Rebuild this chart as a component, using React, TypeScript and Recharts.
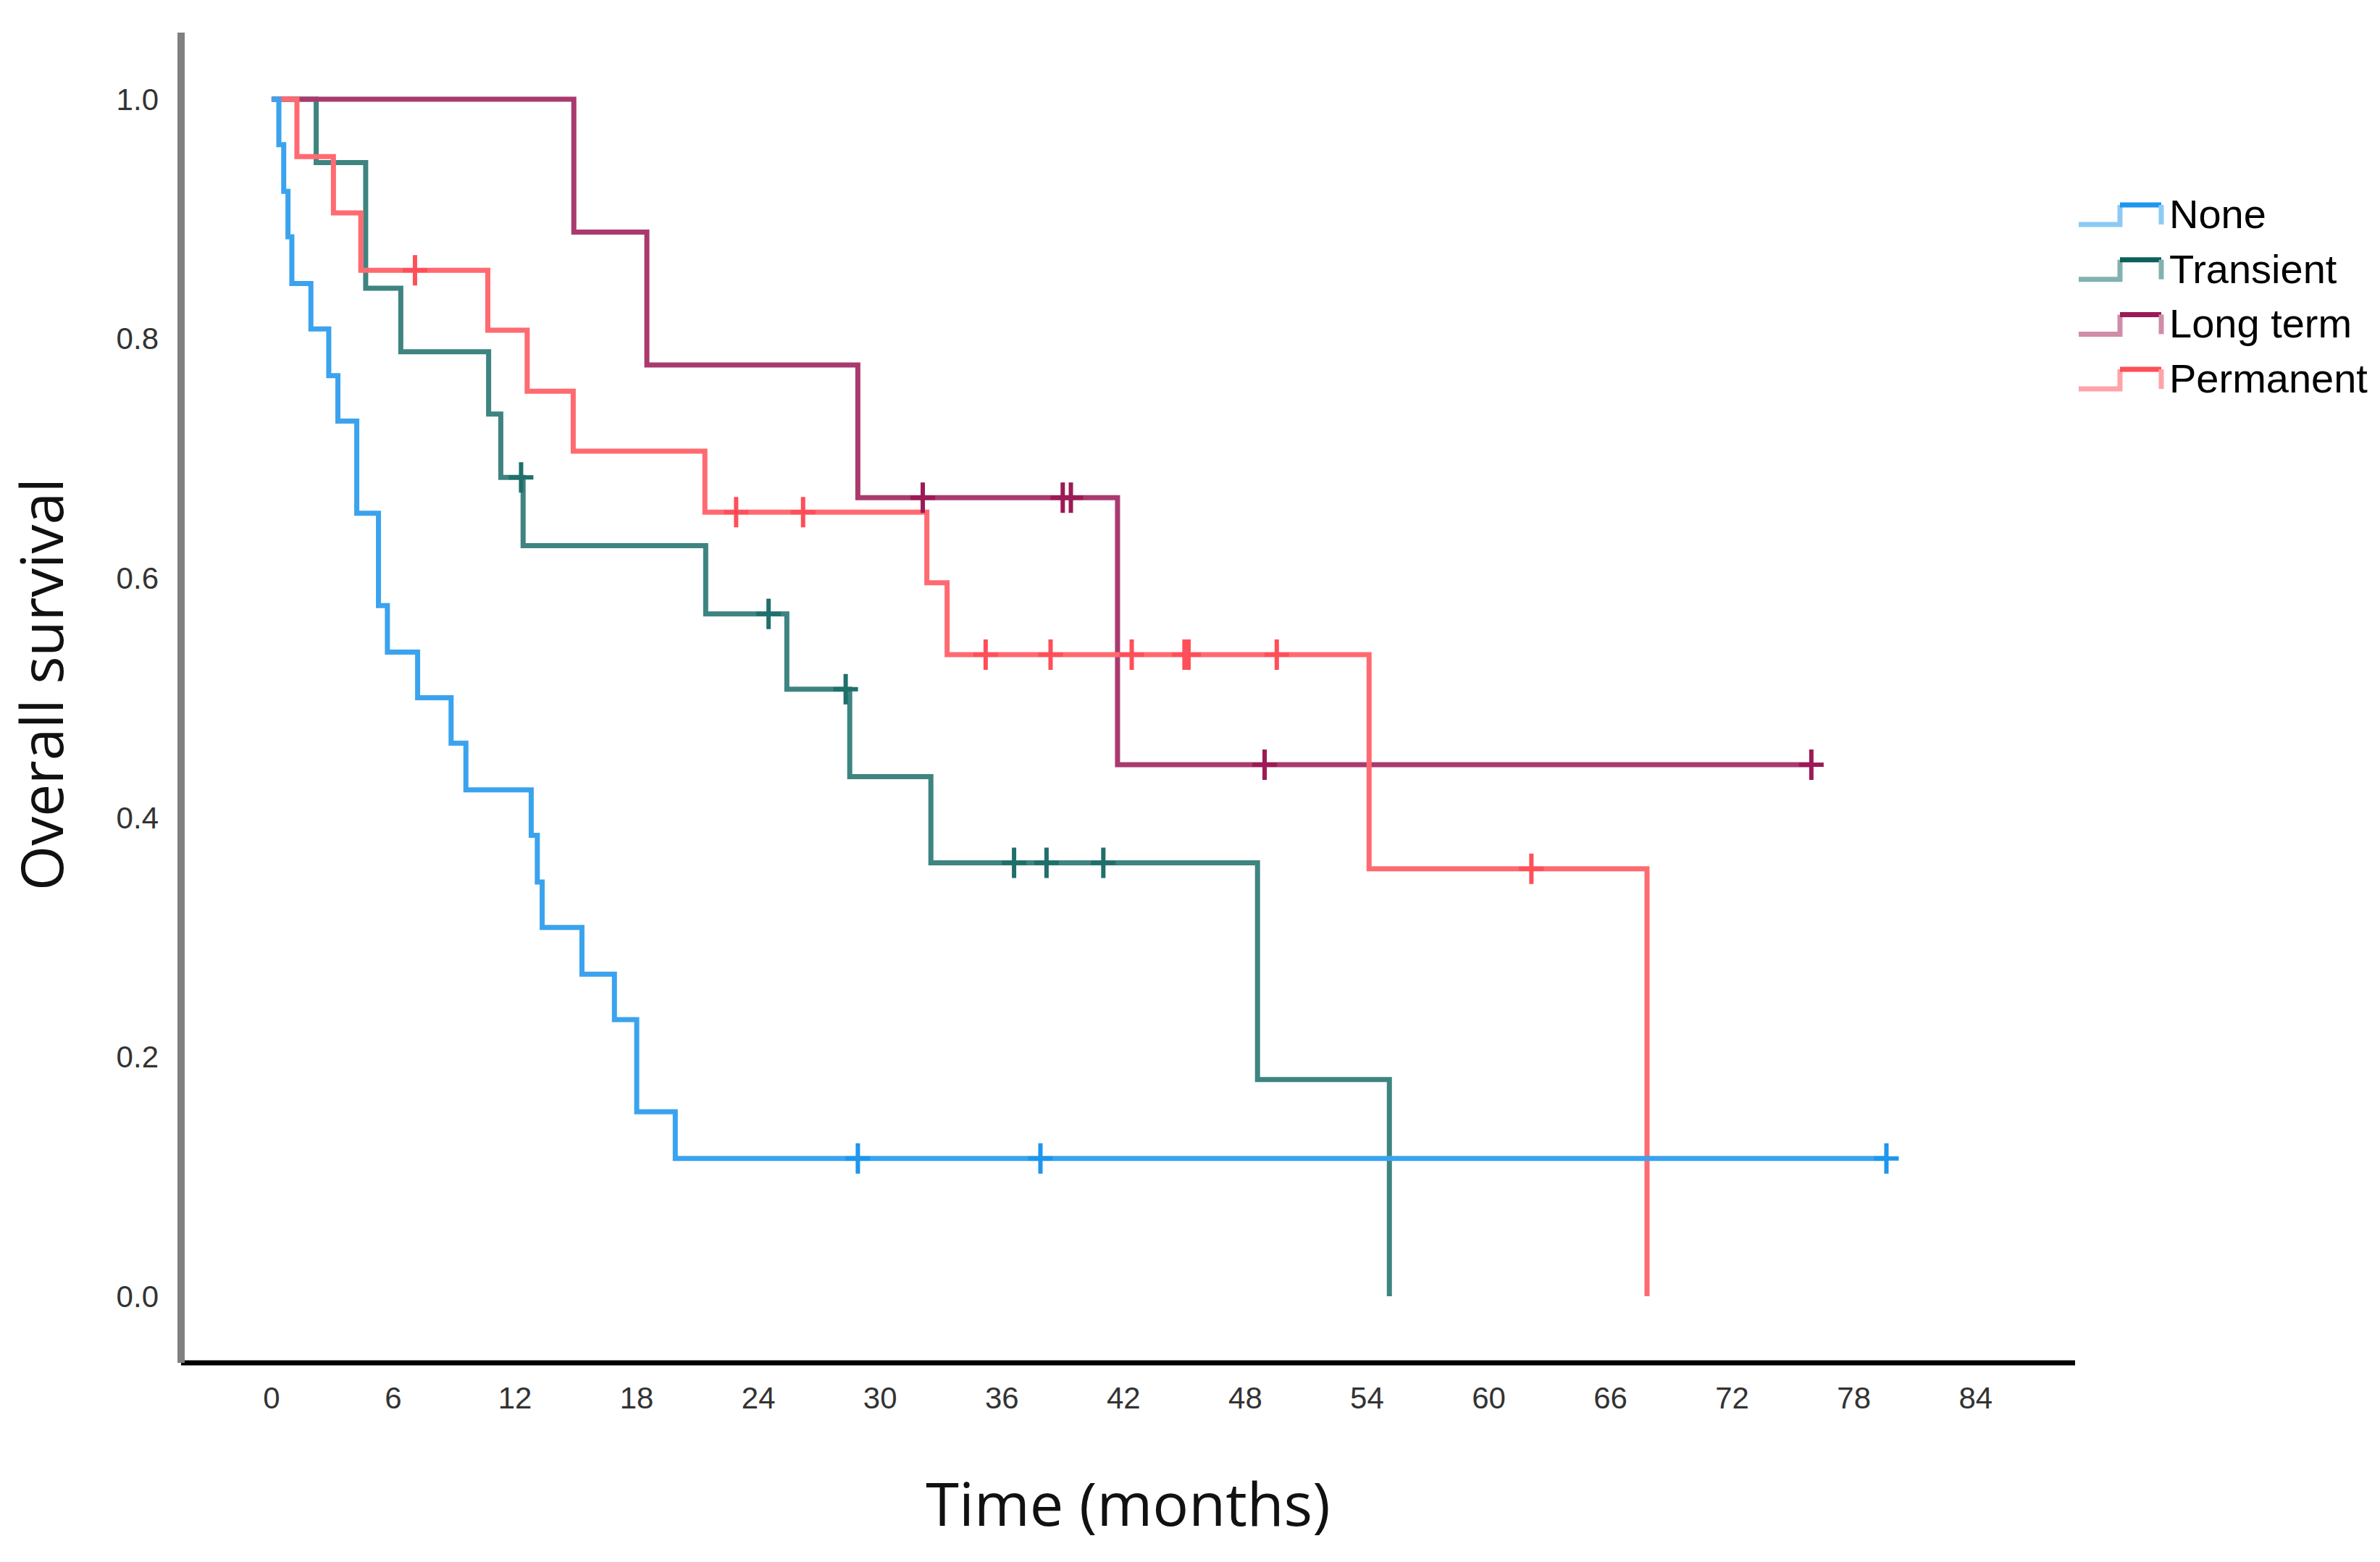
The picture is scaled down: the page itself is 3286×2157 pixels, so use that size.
import { LineChart, Line, XAxis, YAxis, Legend } from "recharts";

type Pt = { t: number; s: number; c?: boolean };

// Kaplan-Meier steps (c = censored)
const noneCurve: Pt[] = [
  { t: 0, s: 1 },
  { t: 0.36, s: 0.962 },
  { t: 0.6, s: 0.923 },
  { t: 0.81, s: 0.885 },
  { t: 1.0, s: 0.846 },
  { t: 1.94, s: 0.808 },
  { t: 2.82, s: 0.769 },
  { t: 3.27, s: 0.731 },
  { t: 4.2, s: 0.654 },
  { t: 5.27, s: 0.577 },
  { t: 5.71, s: 0.538 },
  { t: 7.2, s: 0.5 },
  { t: 8.85, s: 0.462 },
  { t: 9.58, s: 0.423 },
  { t: 12.8, s: 0.385 },
  { t: 13.1, s: 0.346 },
  { t: 13.34, s: 0.308 },
  { t: 15.3, s: 0.269 },
  { t: 16.9, s: 0.231 },
  { t: 18.0, s: 0.154 },
  { t: 19.9, s: 0.115 },
  { t: 28.9, s: 0.115, c: true },
  { t: 37.9, s: 0.115, c: true },
  { t: 79.6, s: 0.115, c: true },
];

const transientCurve: Pt[] = [
  { t: 0, s: 1 },
  { t: 2.2, s: 0.947 },
  { t: 4.64, s: 0.842 },
  { t: 6.37, s: 0.789 },
  { t: 10.7, s: 0.737 },
  { t: 11.3, s: 0.684 },
  { t: 12.3, s: 0.684, c: true },
  { t: 12.4, s: 0.627 },
  { t: 21.4, s: 0.57 },
  { t: 24.5, s: 0.57, c: true },
  { t: 25.4, s: 0.507 },
  { t: 28.3, s: 0.507, c: true },
  { t: 28.5, s: 0.434 },
  { t: 32.5, s: 0.362 },
  { t: 36.6, s: 0.362, c: true },
  { t: 38.2, s: 0.362, c: true },
  { t: 41.0, s: 0.362, c: true },
  { t: 48.6, s: 0.181 },
  { t: 55.1, s: 0 },
];

const longTermCurve: Pt[] = [
  { t: 0, s: 1 },
  { t: 14.9, s: 0.889 },
  { t: 18.5, s: 0.778 },
  { t: 28.9, s: 0.667 },
  { t: 32.1, s: 0.667, c: true },
  { t: 39.0, s: 0.667, c: true },
  { t: 39.4, s: 0.667, c: true },
  { t: 41.7, s: 0.444 },
  { t: 48.95, s: 0.444, c: true },
  { t: 75.9, s: 0.444, c: true },
];

const permanentCurve: Pt[] = [
  { t: 0, s: 1 },
  { t: 1.25, s: 0.952 },
  { t: 3.05, s: 0.905 },
  { t: 4.4, s: 0.857 },
  { t: 7.07, s: 0.857, c: true },
  { t: 10.66, s: 0.807 },
  { t: 12.6, s: 0.756 },
  { t: 14.87, s: 0.706 },
  { t: 21.36, s: 0.655 },
  { t: 22.9, s: 0.655, c: true },
  { t: 26.2, s: 0.655, c: true },
  { t: 32.3, s: 0.596 },
  { t: 33.3, s: 0.536 },
  { t: 35.2, s: 0.536, c: true },
  { t: 38.4, s: 0.536, c: true },
  { t: 42.4, s: 0.536, c: true },
  { t: 45.0, s: 0.536, c: true },
  { t: 45.2, s: 0.536, c: true },
  { t: 49.55, s: 0.536, c: true },
  { t: 54.1, s: 0.357 },
  { t: 62.1, s: 0.357, c: true },
  { t: 67.8, s: 0 },
];

const xTicks = [0, 6, 12, 18, 24, 30, 36, 42, 48, 54, 60, 66, 72, 78, 84];
const yTicks = [0, 0.2, 0.4, 0.6, 0.8, 1.0];

const legendItems = [
  { name: "None", dark: "#1e96ee", light: "#8ccaf4" },
  { name: "Transient", dark: "#0b605c", light: "#82b2af" },
  { name: "Long term", dark: "#9c1a56", light: "#d08ca9" },
  { name: "Permanent", dark: "#ff4f58", light: "#ffa3a8" },
];

const censorDot = (color: string) => (props: any) => {
  const { cx, cy, payload, index } = props;
  if (!payload || !payload.c) return <g key={index} />;
  return (
    <path
      key={index}
      d={`M${cx - 17},${cy}H${cx + 17}M${cx},${cy - 21}V${cy + 21}`}
      stroke={color}
      strokeWidth={6}
      fill="none"
    />
  );
};

function renderLegend() {
  return (
    <svg width={420} height={320}>
      {legendItems.map((it, i) => {
        const cy = 35 + 75.7 * i;
        return (
          <g key={it.name}>
            <path d={`M10,${cy + 15}H67V${cy - 12}`} stroke={it.light} strokeWidth={7} fill="none" />
            <path d={`M67,${cy - 12}H124`} stroke={it.dark} strokeWidth={7} fill="none" />
            <path d={`M124,${cy - 12}V${cy + 15}`} stroke={it.light} strokeWidth={7} fill="none" />
            <text x={135} y={cy + 20} fontSize={56} fill="#000" fontFamily="Liberation Sans, Arial, sans-serif">
              {it.name}
            </text>
          </g>
        );
      })}
    </svg>
  );
}

const tickStyle = { fontSize: 42, fill: "#333", fontFamily: "Liberation Sans, Arial, sans-serif" };

export default function App() {
  return (
    <div style={{ position: "absolute", left: 0, top: 0, width: 3286, height: 2157, background: "#fff" }}>
      <LineChart width={3286} height={2157} margin={{ top: 45, right: 421, bottom: 0, left: 0 }}>
        <XAxis
          type="number"
          dataKey="t"
          domain={[-4.46, 88.9]}
          ticks={xTicks}
          allowDataOverflow
          tickLine={false}
          tickSize={0}
          tickMargin={33}
          height={275}
          tick={tickStyle}
          axisLine={{ stroke: "#000", strokeWidth: 7 }}
          label={(p: any) => {
            const vb = p.viewBox;
            return (
              <text
                x={vb.x + vb.width / 2}
                y={vb.y + 225}
                textAnchor="middle"
                fontSize={83}
                fill="#111"
                fontFamily="Open Sans, sans-serif"
              >
                Time (months)
              </text>
            );
          }}
        />
        <YAxis
          type="number"
          dataKey="s"
          domain={[-0.0557, 1.0556]}
          ticks={yTicks}
          allowDataOverflow
          width={250}
          tickLine={false}
          tickSize={0}
          tickMargin={31}
          tick={tickStyle}
          tickFormatter={(v: number) => v.toFixed(1)}
          axisLine={{ stroke: "#808080", strokeWidth: 10 }}
          label={() => (
            <text
              x={87}
              y={945}
              transform="rotate(-90 87 945)"
              textAnchor="middle"
              fontSize={80}
              fill="#111"
              fontFamily="Open Sans, sans-serif"
            >
              Overall survival
            </text>
          )}
        />
        <Legend
          layout="vertical"
          align="center"
          verticalAlign="middle"
          wrapperStyle={{ left: 2860, top: 260, width: 420, height: 320 }}
          content={renderLegend}
        />
        <Line data={transientCurve} dataKey="s" name="Transient" type="stepAfter" stroke="#3e8480" strokeWidth={7} dot={censorDot("#1f6f6b")} activeDot={false} isAnimationActive={false} />
        <Line data={longTermCurve} dataKey="s" name="Long term" type="stepAfter" stroke="#a93a6e" strokeWidth={7} dot={censorDot("#9c1a56")} activeDot={false} isAnimationActive={false} />
        <Line data={permanentCurve} dataKey="s" name="Permanent" type="stepAfter" stroke="#ff6a71" strokeWidth={7} dot={censorDot("#ff4f58")} activeDot={false} isAnimationActive={false} />
        <Line data={noneCurve} dataKey="s" name="None" type="stepAfter" stroke="#3ba3ee" strokeWidth={7} dot={censorDot("#1e96ee")} activeDot={false} isAnimationActive={false} />
      </LineChart>
    </div>
  );
}
